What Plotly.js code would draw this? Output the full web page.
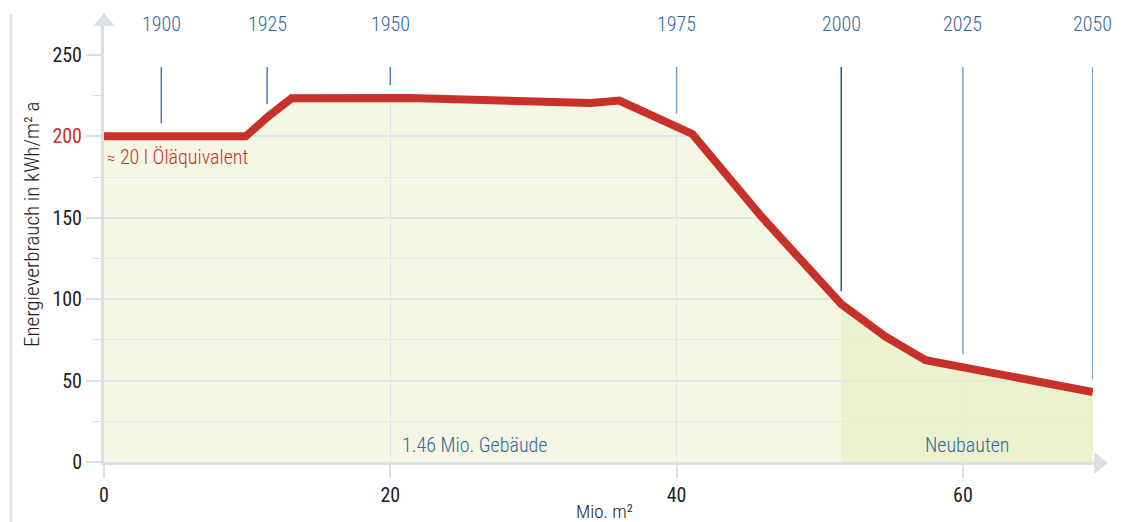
<!DOCTYPE html>
<html>
<head>
<meta charset="utf-8">
<script src="https://cdn.plot.ly/plotly-3.0.1.min.js"></script>
<style>html,body{margin:0;padding:0;background:#fff}#chart{width:1128px;height:522px}</style>
</head>
<body>
<div id="chart"></div>
<script>
// ---- data ----
const curveX = [0, 9.9, 11.5, 13.1, 21.4, 27.0, 30.5, 34.0, 36.0, 41.1, 45.9, 51.5, 54.6, 57.4, 69.07];
const curveY = [200, 200, 212.5, 223.4, 223.5, 222, 220.8, 220.5, 222, 201.5, 151, 97, 77, 62.5, 43];
const yearLabels = ["1900", "1925", "1950", "1975", "2000", "2025", "2050"];
const yearX = [4.0, 11.4, 20.0, 40.0, 51.5, 60.0, 69.07];
const newBuildStart = 51.5;
const yTickVals = [0, 50, 100, 150, 200, 250];
const yMinorVals = [25, 75, 125, 175, 225];
const xTickVals = [0, 20, 40, 60];

// ---- layout constants ----
const FONT = '"Liberation Sans Narrow", "Roboto Condensed", "Arial Narrow", Roboto, sans-serif';
const RED = '#c8302a';
const BLUE = '#2e68a4';
const AXIS = '#d8e0e5';
const GRID = '#dfe5e9';
const WT = 300;
const W = 1128, H = 522, ML = 104, MR = 35, MT = 25, MB = 60;
const yTop = 268.4, xEnd = curveX[curveX.length - 1] + 0.02;
const pw = W - ML - MR, ph = H - MT - MB;
const px = v => (v - ML) / pw;           // pixel -> paper x
const py = v => (H - MB - v) / ph;       // pixel -> paper y

function interp(x) {
  for (let i = 0; i < curveX.length - 1; i++) {
    if (x >= curveX[i] && x <= curveX[i + 1]) {
      const t = (x - curveX[i]) / (curveX[i + 1] - curveX[i]);
      return curveY[i] + t * (curveY[i + 1] - curveY[i]);
    }
  }
  return curveY[curveY.length - 1];
}

const newX = [], newY = [];
curveX.forEach((x, i) => { if (x >= newBuildStart) { newX.push(x); newY.push(curveY[i]); } });
const coverX = curveX.concat([xEnd]);
const coverBase = curveY.concat([curveY[curveY.length - 1]]);

const traces = [
  { x: newX, y: newY, type: 'scatter', mode: 'lines', line: { width: 0 }, fill: 'tozeroy',
    fillcolor: 'rgba(228,238,190,0.6)', hoverinfo: 'skip' },
  { x: coverX, y: coverBase, type: 'scatter', mode: 'lines', line: { width: 0, color: 'rgba(0,0,0,0)' }, hoverinfo: 'skip' },
  { x: coverX, y: coverX.map(() => yTop), type: 'scatter', mode: 'lines', line: { width: 0, color: 'rgba(0,0,0,0)' },
    fill: 'tonexty', fillcolor: '#ffffff', hoverinfo: 'skip' },
  { x: curveX, y: curveY, type: 'scatter', mode: 'lines', line: { width: 8, color: RED }, hoverinfo: 'skip', cliponaxis: false }
];

const shapes = [];
yearX.forEach((x, i) => {
  shapes.push({ type: 'line', xref: 'x', yref: 'y', x0: x, x1: x, y0: interp(x) + 8, y1: 242.6,
    line: { color: yearLabels[i] === '2000' ? '#1c5ca6' : (i < 3 ? '#4a7db8' : '#7b9fca'), width: 1.5 }, layer: 'above' });
});
// decorative lines and arrow heads
shapes.push({ type: 'line', xref: 'paper', yref: 'paper', x0: px(11), x1: px(11), y0: py(522), y1: py(14),
  line: { color: '#dfe6ea', width: 3 } });
shapes.push({ type: 'path', xref: 'paper', yref: 'paper', fillcolor: AXIS, line: { width: 0 },
  path: `M ${px(104)} ${py(13)} L ${px(93)} ${py(26)} L ${px(115)} ${py(26)} Z` });
shapes.push({ type: 'line', xref: 'paper', yref: 'paper', x0: 1, x1: px(1096), y0: py(463), y1: py(463),
  line: { color: AXIS, width: 3 } });
shapes.push({ type: 'path', xref: 'paper', yref: 'paper', fillcolor: AXIS, line: { width: 0 },
  path: `M ${px(1108)} ${py(463)} L ${px(1094)} ${py(452)} L ${px(1094)} ${py(474)} Z` });

const annotations = yearLabels.map((t, i) => ({
  x: yearX[i], y: py(24), xref: 'x', yref: 'paper', text: t, showarrow: false,
  font: { family: FONT, size: 20, color: BLUE, weight: WT }, xanchor: 'center', yanchor: 'middle'
}));
annotations.push({ x: 0, y: 187.5, xref: 'x', yref: 'y', xshift: 1, text: '<span style="font-size:17px">≈</span> 20 l Öläquivalent',
  showarrow: false, xanchor: 'left', yanchor: 'middle', font: { family: FONT, size: 20, color: RED, weight: WT } });
annotations.push({ x: 20.7, y: 10.5, xref: 'x', yref: 'y', text: '1.46 Mio. Gebäude', showarrow: false,
  xanchor: 'left', yanchor: 'middle', font: { family: FONT, size: 20, color: BLUE, weight: WT } });
annotations.push({ x: 60.35, y: 10.5, xref: 'x', yref: 'y', text: 'Neubauten', showarrow: false,
  xanchor: 'center', yanchor: 'middle', font: { family: FONT, size: 20, color: BLUE, weight: WT } });
annotations.push({ x: px(32), y: py(225), xref: 'paper', yref: 'paper', text: 'Energieverbrauch in kWh/m² a',
  textangle: -90, showarrow: false, xanchor: 'center', yanchor: 'middle', font: { family: FONT, size: 21, color: '#222', weight: WT } });
annotations.push({ x: px(604), y: py(511), xref: 'paper', yref: 'paper', text: 'Mio. m²', showarrow: false,
  xanchor: 'center', yanchor: 'middle', font: { family: FONT, size: 19, color: '#222', weight: WT } });

const layout = {
  width: W, height: H,
  margin: { l: ML, r: MR, t: MT, b: MB, pad: 0 },
  paper_bgcolor: '#ffffff', plot_bgcolor: '#f5f6e3',
  showlegend: false,
  font: { family: FONT, size: 19, color: '#222', weight: WT },
  xaxis: {
    range: [0, xEnd], automargin: false, fixedrange: true,
    tickvals: xTickVals, ticktext: xTickVals.map(String),
    ticks: 'outside', ticklen: 13, tickwidth: 2, tickcolor: AXIS,
    showgrid: true, gridcolor: GRID, gridwidth: 1,
    showline: true, linecolor: AXIS, linewidth: 3, zeroline: false, layer: 'above traces',
    tickfont: { family: FONT, size: 20, color: '#222', weight: 400 }
  },
  yaxis: {
    range: [0, yTop], automargin: false, fixedrange: true,
    tickvals: yTickVals,
    ticktext: yTickVals.map(v => v === 200 ? '<span style="color:' + RED + '">200</span>' : String(v)),
    ticks: 'outside', ticklen: 15, tickwidth: 2, tickcolor: AXIS,
    showgrid: true, gridcolor: GRID, gridwidth: 2,
    minor: { tickvals: yMinorVals, ticks: 'outside', ticklen: 9, tickwidth: 1, tickcolor: AXIS,
      showgrid: true, gridcolor: '#e4e9ec', gridwidth: 1 },
    showline: true, linecolor: AXIS, linewidth: 3, zeroline: false, layer: 'above traces',
    tickfont: { family: FONT, size: 20, color: '#222', weight: 400 }
  },
  shapes: shapes,
  annotations: annotations
};

Plotly.newPlot('chart', traces, layout, { staticPlot: true, displayModeBar: false });
</script>
</body>
</html>
